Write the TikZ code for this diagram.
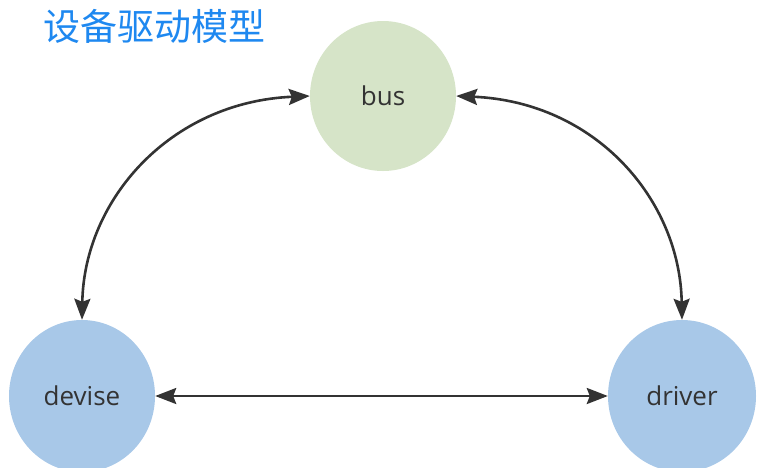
\documentclass[tikz,border=0pt]{standalone}
\usepackage{fontspec}
\setmainfont{Open Sans}
\newfontfamily\cjk{Noto Sans CJK SC}
\usetikzlibrary{arrows.meta,shapes.geometric}
\definecolor{busgreen}{HTML}{D6E4C8}
\definecolor{nodeblue}{HTML}{A8C8E8}
\definecolor{ink}{HTML}{333333}
\definecolor{titleblue}{HTML}{1E88F0}
\begin{document}
\begin{tikzpicture}[x=1pt,y=-1pt,
  blob/.style={ellipse,minimum width=146pt,minimum height=152pt,inner sep=0pt,text=ink,font=\fontsize{26}{30}\selectfont},
  tip/.tip={Stealth[length=21pt,width=16pt,inset=3pt]},
  link/.style={draw=ink,line width=2.6pt,tip-tip}]
\useasboundingbox (0,0) rectangle (758,467);
\node[anchor=center,text=titleblue,font=\cjk\fontsize{37}{40}\selectfont] (title) at (154,26) {设备驱动模型};
\node[blob,fill=busgreen,minimum height=150pt] (bus) at (383,96) {bus};
\node[blob,fill=nodeblue] (devise) at (82,396) {devise};
\node[blob,fill=nodeblue,minimum width=148pt] (driver) at (682,396) {driver};
\draw[link] (bus.west) .. controls (170,102) and (84,200) .. (devise.north);
\draw[link] (bus.east) .. controls (596,102) and (680,200) .. (driver.north);
\draw[link] (devise.east) -- (driver.west);
\end{tikzpicture}
\end{document}
